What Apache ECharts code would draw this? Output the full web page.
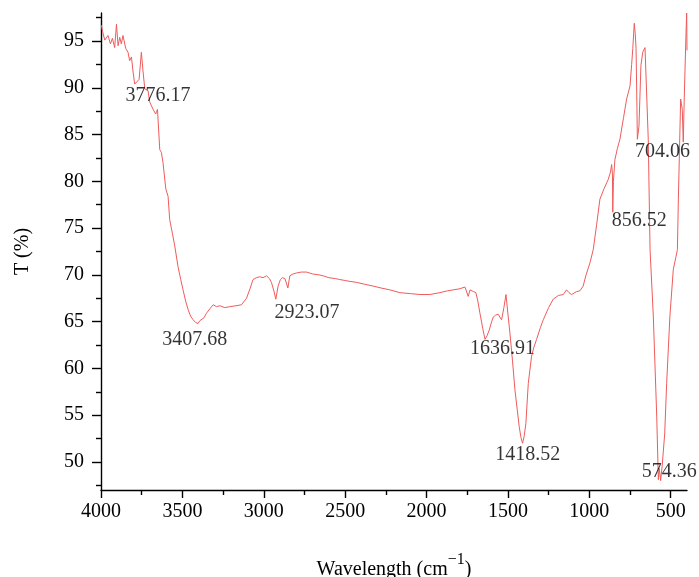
<!DOCTYPE html>
<html>
<head>
<meta charset="utf-8">
<script src="https://cdn.jsdelivr.net/npm/echarts@6/dist/echarts.min.js"></script>
<style>
html,body{margin:0;padding:0;background:#fff;}
#chart{width:699px;height:577px;}
</style>
</head>
<body>
<div id="chart"></div>
<script>
// Spectrum (wavenumber in cm^-1, transmittance in %)
const wavenumber = [
3998,3990,3977,3957,3942,3930,3916,3905,3895,3885,3875,3865,3854,3848,3834,3824,3813,3803,3793,3782,
3766,3752,3742,3731,3711,3701,3680,3664,3653,3639,3629,3619,3602,3588,3578,3562,3547,3527,3510,3496,
3480,3465,3450,3434,3418,3404,3393,3383,3368,3352,3330,3311,3290,3270,3240,3209,3170,3137,3106,3085,
3066,3045,3025,3005,2983,2965,2953,2938,2926,2912,2898,2885,2870,2861,2852,2840,2820,2799,2770,2738,
2700,2660,2635,2600,2560,2533,2500,2470,2430,2380,2328,2280,2226,2164,2100,2041,1980,1918,1870,1836,
1800,1764,1744,1733,1723,1710,1697,1685,1672,1655,1641,1628,1615,1600,1590,1575,1560,1550,1539,1525,
1512,1500,1488,1472,1457,1443,1431,1420,1410,1400,1390,1375,1355,1340,1324,1300,1283,1250,1222,1190,
1160,1140,1125,1109,1080,1058,1038,1020,996,976,955,935,910,884,870,863,858,856,852,843,
828,812,790,771,750,740,733,724,718,713,708,705,695,683,672,658,648,638,627,607,
586,576,570,562,553,537,525,505,484,467,459,453,439,429,423,417,406,402,400
];
const transmittance = [
96.7,96.0,95.1,95.6,94.7,95.3,94.3,96.8,94.5,95.4,94.7,95.6,95.8,94.2,93.8,92.9,93.3,91.7,90.4,90.2,
90.9,93.8,91.8,89.9,89.7,88.5,87.7,87.2,87.7,83.4,83.1,82.0,79.2,78.4,75.9,74.5,73.1,70.9,69.5,68.4,
67.2,66.3,65.6,65.2,64.9,64.8,65.1,65.0,65.4,65.9,66.4,66.8,66.6,66.7,66.5,66.6,66.7,66.8,67.5,68.5,
69.5,69.7,69.8,69.7,69.9,69.6,69.2,68.3,67.4,68.8,69.5,69.7,69.6,69.5,68.6,69.9,70.1,70.2,70.3,70.3,
70.1,70.0,69.9,69.7,69.6,69.5,69.4,69.3,69.2,69.0,68.8,68.6,68.4,68.1,68.0,67.9,67.9,68.1,68.3,68.4,
68.5,68.7,67.7,68.4,68.3,68.2,68.1,67.2,65.9,64.3,63.1,63.5,64.1,65.0,65.5,65.7,65.8,65.5,65.2,66.5,
67.9,65.8,63.8,60.8,57.7,55.6,53.8,52.6,52.0,52.8,54.1,58.4,61.3,62.3,63.1,64.4,65.2,66.5,67.4,67.8,
67.9,68.4,68.1,67.9,68.2,68.3,68.8,70.0,71.3,72.7,75.4,78.1,79.2,80.2,81.0,81.8,80.8,76.7,80.0,82.3,
83.5,84.5,86.8,88.8,90.2,92.5,94.2,96.9,95.8,94.2,88.5,84.5,85.9,92.4,93.8,94.3,94.2,84.5,72.7,65.6,
54.9,48.1,49.3,48.0,49.5,53.0,58.4,65.6,70.6,72.0,72.7,78.1,88.8,87.7,84.2,88.8,95.9,98.0,94.0
];

// Peak annotations: text and where its centre sits (in data units)
const peakLabels = ['3776.17','3407.68','2923.07','1636.91','1418.52','856.52','704.06','574.36'];
const peakLabelX = [3650,3424,2734,1534,1379,694,550,509];
const peakLabelY = [89.2,63.1,65.9,62.1,50.8,75.8,83.2,48.9];

// Axis ticks
const xMajorTicks = [4000,3500,3000,2500,2000,1500,1000,500];
const xMinorTicks = [3750,3250,2750,2250,1750,1250,750];
const yMajorTicks = [50,55,60,65,70,75,80,85,90,95];
const yMinorTicks = [47.5,52.5,57.5,62.5,67.5,72.5,77.5,82.5,87.5,92.5,97.5];

const X_MIN = 400, X_MAX = 4000, Y_MIN = 47, Y_MAX = 98;
const FONT = '"Liberation Serif", "DejaVu Serif", serif';

const lineData = wavenumber.map((w, i) => [w, transmittance[i]]);
const labelData = peakLabels.map((t, i) => ({value: [peakLabelX[i], peakLabelY[i]], name: t}));

const chart = echarts.init(document.getElementById('chart'), null, {renderer: 'canvas'});
chart.setOption({
  animation: false,
  backgroundColor: '#ffffff',
  grid: {left: 101, right: 12, top: 13, bottom: 87, containLabel: false, outerBoundsMode: 'none'},
  xAxis: [
    {
      type: 'value', min: X_MIN, max: X_MAX, inverse: true, position: 'bottom',
      name: '{b|Wavelength (cm}{sup|\u22121}{b|)}', nameLocation: 'middle', nameGap: 62,
      nameTextStyle: {fontFamily: FONT, fontSize: 20, color: '#000',
        rich: {
          b: {fontFamily: FONT, fontSize: 20, color: '#000', verticalAlign: 'bottom'},
          sup: {fontFamily: FONT, fontSize: 16, color: '#000', verticalAlign: 'top', padding: [0,0,12,0]}
        }},
      axisLine: {show: true, onZero: false, lineStyle: {color: '#000', width: 1.4}},
      axisTick: {show: true, inside: false, length: 8, lineStyle: {color: '#000', width: 1.4}, customValues: xMajorTicks},
      axisLabel: {show: true, margin: 12, fontFamily: FONT, fontSize: 20, color: '#000',
        customValues: xMajorTicks, formatter: v => String(v)},
      splitLine: {show: false}
    },
    {
      type: 'value', min: X_MIN, max: X_MAX, inverse: true, position: 'bottom',
      axisLine: {show: false, onZero: false},
      axisTick: {show: true, inside: false, length: 5, lineStyle: {color: '#000', width: 1.4}, customValues: xMinorTicks},
      axisLabel: {show: false},
      splitLine: {show: false}
    }
  ],
  yAxis: [
    {
      type: 'value', min: Y_MIN, max: Y_MAX, position: 'left',
      name: 'T (%)', nameLocation: 'middle', nameGap: 68, nameRotate: 90,
      nameTextStyle: {fontFamily: FONT, fontSize: 20, color: '#000'},
      axisLine: {show: true, onZero: false, lineStyle: {color: '#000', width: 1.4}},
      axisTick: {show: true, inside: false, length: 9, lineStyle: {color: '#000', width: 1.4}, customValues: yMajorTicks},
      axisLabel: {show: true, margin: 17, fontFamily: FONT, fontSize: 20, color: '#000',
        customValues: yMajorTicks, formatter: v => String(v)},
      splitLine: {show: false}
    },
    {
      type: 'value', min: Y_MIN, max: Y_MAX, position: 'left',
      axisLine: {show: false, onZero: false},
      axisTick: {show: true, inside: false, length: 5, lineStyle: {color: '#000', width: 1.4}, customValues: yMinorTicks},
      axisLabel: {show: false},
      splitLine: {show: false}
    }
  ],
  series: [
    {
      type: 'line', xAxisIndex: 0, yAxisIndex: 0, data: lineData,
      showSymbol: false, symbol: 'none', smooth: false, clip: true,
      lineStyle: {color: '#ef5b5b', width: 1},
      z: 2
    },
    {
      type: 'scatter', xAxisIndex: 0, yAxisIndex: 0, data: labelData,
      symbolSize: 1, itemStyle: {color: 'rgba(0,0,0,0)'}, silent: true,
      label: {show: true, position: 'inside', formatter: p => p.name,
        fontFamily: FONT, fontSize: 20, color: '#000'},
      z: 5
    }
  ]
});
</script>
</body>
</html>
